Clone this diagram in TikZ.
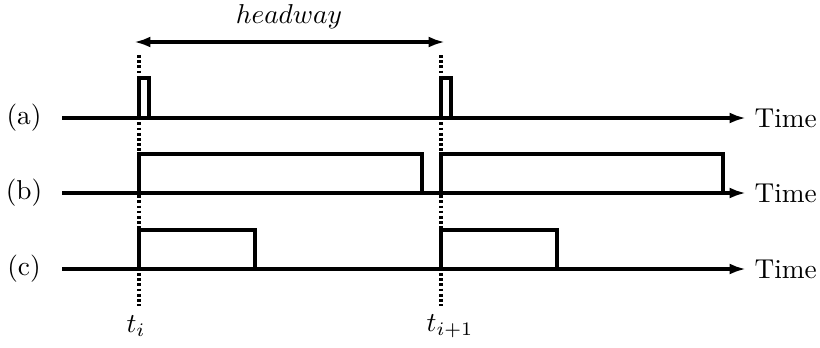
\documentclass[tikz,border=0pt]{standalone}
\usetikzlibrary{arrows.meta}
\begin{document}
\begin{tikzpicture}[x=0.366pt,y=-0.366pt,
  axis/.style={line width=1.4pt,-{Latex[length=6pt,width=4pt]}},
  pulse/.style={line width=1.4pt,line join=miter},
  guide/.style={line width=1.3pt,dash pattern=on 1pt off 0.9pt},
  span/.style={line width=1.4pt,{Latex[length=6pt,width=4pt]}-{Latex[length=6pt,width=4pt]}},
  lbl/.style={inner sep=0pt,font=\normalsize}]
\useasboundingbox (0,0) rectangle (820,347);
% time guides
\coordinate (g1t) at (139,55); \coordinate (g1b) at (139,306);
\coordinate (g2t) at (441,55); \coordinate (g2b) at (441,306);
\draw[guide] (g1t) -- (g1b);
\draw[guide] (g2t) -- (g2b);
% headway
\coordinate (h0) at (134,42); \coordinate (h1) at (445,42);
\draw[span] (h0) -- (h1);
\node[lbl] (hw) at (289,17) {$headway$};
% axes
\coordinate (a0) at (62,118); \coordinate (a1) at (746,118);
\coordinate (b0) at (62,193); \coordinate (b1) at (746,193);
\coordinate (c0) at (62,269); \coordinate (c1) at (746,269);
\draw[axis] (a0) -- (a1);
\draw[axis] (b0) -- (b1);
\draw[axis] (c0) -- (c1);
\node[lbl,anchor=west] (ta) at (754,118) {Time};
\node[lbl,anchor=west] (tb) at (754,193) {Time};
\node[lbl,anchor=west] (tc) at (754,269) {Time};
\node[lbl] (la) at (24,118) {(a)};
\node[lbl] (lb) at (24,193) {(b)};
\node[lbl] (lc) at (24,269) {(c)};
% pulses (a)
\draw[pulse] (139,118) -- (139,78) -- (149,78) -- (149,118);
\draw[pulse] (441,118) -- (441,78) -- (451,78) -- (451,118);
% pulses (b)
\draw[pulse] (139,193) -- (139,154) -- (422,154) -- (422,193);
\draw[pulse] (441,193) -- (441,154) -- (723,154) -- (723,193);
% pulses (c)
\draw[pulse] (139,269) -- (139,230) -- (255,230) -- (255,269);
\draw[pulse] (441,269) -- (441,230) -- (557,230) -- (557,269);
% time labels
\node[lbl] (ti) at (136,326) {$t_i$};
\node[lbl] (ti1) at (450,326) {$t_{i+1}$};
\end{tikzpicture}
\end{document}
